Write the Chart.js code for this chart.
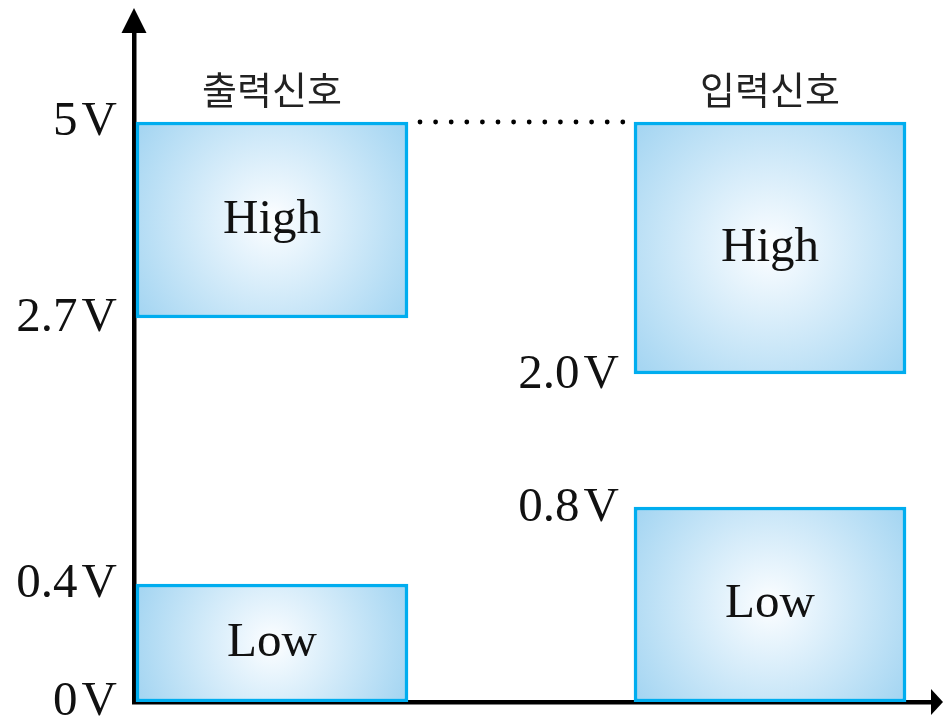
<!DOCTYPE html>
<html>
<head>
<meta charset="utf-8">
<script src="https://cdn.jsdelivr.net/npm/chart.js@4.4.0/dist/chart.umd.min.js"></script>
<style>
  html, body { margin: 0; padding: 0; background: #fff; }
  #wrap { width: 943px; height: 720px; position: relative; }
</style>
</head>
<body>
<div id="wrap"><canvas id="canvas_1"></canvas></div>
<script>
// Data
let signals = ['출력신호', '입력신호'];
let bands = ['High', 'Low'];
let highRange = [[2.7, 5], [2.0, 5]];   // volts, [from, to]
let lowRange = [[0, 0.4], [0, 0.8]];
let axisTicks = [0, 0.4, 2.7, 5];
let axisTickLabels = ['0\u200AV', '0.4\u200AV', '2.7\u200AV', '5\u200AV'];
let inputTicks = [2.0, 0.8];
let inputTickLabels = ['2.0\u200AV', '0.8\u200AV'];

// schematic (non linear) voltage axis: volts -> share of axis height
let voltStops = [0, 0.4, 0.8, 2.0, 2.7, 5, 6.08];
let shareStops = [0, 0.1756, 0.2902, 0.4881, 0.5714, 0.8631, 1];

function voltToShare(v) {
  let i = 1;
  while (i < voltStops.length - 1 && v > voltStops[i]) i++;
  let v0 = voltStops[i - 1], v1 = voltStops[i];
  let s0 = shareStops[i - 1], s1 = shareStops[i];
  return s0 + (v - v0) / (v1 - v0) * (s1 - s0);
}
function shareToVolt(s) {
  let i = 1;
  while (i < shareStops.length - 1 && s > shareStops[i]) i++;
  let v0 = voltStops[i - 1], v1 = voltStops[i];
  let s0 = shareStops[i - 1], s1 = shareStops[i];
  return v0 + (s - s0) / (s1 - s0) * (v1 - v0);
}

class SchematicScale extends Chart.LinearScale {
  getPixelForValue(value) {
    return this.getPixelForDecimal(voltToShare(value));
  }
  getValueForPixel(pixel) {
    return shareToVolt(this.getDecimalForPixel(pixel));
  }
}
SchematicScale.id = 'schematic';
SchematicScale.defaults = Chart.LinearScale.defaults;
Chart.register(SchematicScale);

const BOX_W = 272;
const SERIF = '"Liberation Serif", "Times New Roman", serif';

function boxFill(context, ranges) {
  let chart = context.chart;
  let xs = chart.scales.x, ys = chart.scales.y;
  let i = context.dataIndex;
  if (!xs || !ys || i === undefined || !ranges[i]) return '#c8e6f8';
  let r = ranges[i];
  let cx = xs.getPixelForValue(i);
  let top = ys.getPixelForValue(r[1]), bot = ys.getPixelForValue(r[0]);
  if (![cx, top, bot].every(Number.isFinite)) return '#c8e6f8';
  let cy = (top + bot) / 2;
  let rad = 0.5 * Math.sqrt(BOX_W * BOX_W + (bot - top) * (bot - top)) * 0.95;
  let g = chart.ctx.createRadialGradient(cx, cy, 0, cx, cy, rad);
  g.addColorStop(0, '#ffffff');
  g.addColorStop(0.12, '#f2f9fe');
  g.addColorStop(1, '#a6d6f2');
  return g;
}

const decor = {
  id: 'decor',
  afterDraw(chart) {
    let ctx = chart.ctx, area = chart.chartArea;
    let xs = chart.scales.x, ys = chart.scales.y;
    ctx.save();
    // arrow heads
    ctx.fillStyle = '#000';
    ctx.beginPath();
    ctx.moveTo(area.left, area.top - 22);
    ctx.lineTo(area.left - 12.5, area.top + 3);
    ctx.lineTo(area.left + 12.5, area.top + 3);
    ctx.closePath();
    ctx.fill();
    ctx.beginPath();
    ctx.moveTo(area.right + 8, area.bottom);
    ctx.lineTo(area.right - 4, area.bottom - 13);
    ctx.lineTo(area.right - 4, area.bottom + 13);
    ctx.closePath();
    ctx.fill();

    // dotted level line between the 5V tops
    let yTop = ys.getPixelForValue(highRange[0][1]);
    let x0 = xs.getPixelForValue(0) + BOX_W / 2 + 12;
    let x1 = xs.getPixelForValue(1) - BOX_W / 2;
    for (let px = x0; px <= x1 + 0.5; px += 15.6) {
      ctx.beginPath();
      ctx.arc(px, yTop, 2.4, 0, Math.PI * 2);
      ctx.fill();
    }

    // signal names
    ctx.fillStyle = '#222';
    ctx.textAlign = 'center';
    ctx.textBaseline = 'middle';
    ctx.font = '38px "Noto Sans CJK KR", sans-serif';
    signals.forEach((s, i) => {
      ctx.fillText(s, xs.getPixelForValue(i), ys.getPixelForValue(highRange[i][1]) - 32);
    });

    // band names inside the boxes
    ctx.fillStyle = '#111';
    ctx.font = '49px ' + SERIF;
    chart.data.datasets.forEach((ds, d) => {
      chart.getDatasetMeta(d).data.forEach(el => {
        ctx.fillText(ds.label, el.x, (el.y + el.base) / 2);
      });
    });

    // input thresholds next to the input boxes
    ctx.textAlign = 'right';
    inputTicks.forEach((v, i) => {
      ctx.fillText(inputTickLabels[i], xs.getPixelForValue(1) - BOX_W / 2 - 15, ys.getPixelForValue(v) + 1);
    });
    ctx.restore();
  }
};

let canvas = document.getElementById('canvas_1');
let ctx = canvas.getContext('2d');
let chart = new Chart(ctx, {
  type: 'bar',
  data: {
    datasets: [{
      label: bands[0],
      data: highRange.map((r, i) => ({ x: i, y: r })),
      backgroundColor: c => boxFill(c, highRange),
    }, {
      label: bands[1],
      data: lowRange.map((r, i) => ({ x: i, y: r })),
      backgroundColor: c => boxFill(c, lowRange),
    }]
  },
  options: {
    responsive: true,
    maintainAspectRatio: false,
    animation: false,
    layout: { padding: { top: 30, right: 8, left: 0, bottom: 0 } },
    datasets: {
      bar: {
        grouped: false,
        barThickness: BOX_W,
        borderColor: '#00adef',
        borderWidth: 3.5,
        borderSkipped: false,
      }
    },
    plugins: {
      legend: { display: false },
      tooltip: { enabled: false }
    },
    scales: {
      x: {
        type: 'linear',
        min: -0.2771,
        max: 1.3313,
        offset: false,
        bounds: 'data',
        z: 1,
        grid: { display: false, drawTicks: false },
        ticks: { display: false },
        border: { display: true, color: '#000', width: 4.5 },
        afterFit: s => { s.height = 18; }
      },
      y: {
        type: 'schematic',
        min: 0,
        max: 6.08,
        bounds: 'data',
        z: 1,
        grid: { display: false, drawTicks: false },
        border: { display: true, color: '#000', width: 4.5 },
        afterBuildTicks: s => { s.ticks = axisTicks.map(v => ({ value: v })); },
        afterFit: s => { s.width = 134; s.paddingTop = 0; s.paddingBottom = 0; },
        ticks: {
          autoSkip: false,
          padding: 17,
          color: '#111',
          font: { family: SERIF, size: 49 },
          callback: v => axisTickLabels[axisTicks.indexOf(v)]
        }
      }
    }
  },
  plugins: [decor]
});
</script>
</body>
</html>
